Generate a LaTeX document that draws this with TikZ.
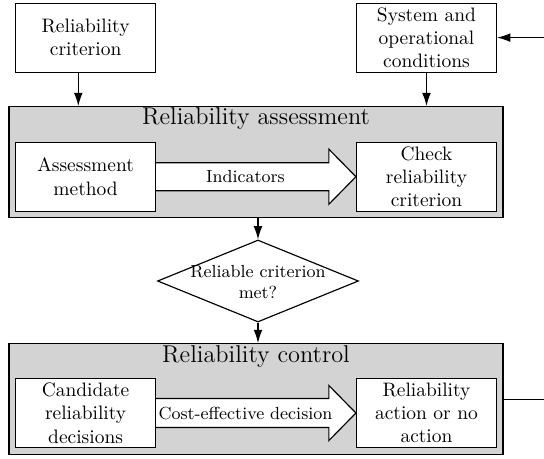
\documentclass[tikz,border=0pt]{standalone}
\usetikzlibrary{arrows.meta,shapes.geometric}
\definecolor{panelgray}{RGB}{211,211,211}
\def\px{0.514pt}
\begin{document}
\begin{tikzpicture}[x=0.514pt,y=-0.514pt,
  box/.style={draw, fill=white, line width=0.6pt, minimum width=71.96pt,
    minimum height=35.47pt, inner sep=0pt, align=center, font=\normalsize},
  panel/.style={draw, fill=panelgray, line width=0.6pt, minimum width=253.9pt,
    minimum height=57.1pt, inner sep=0pt},
  paneltitle/.style={inner sep=0pt, font=\fontsize{12.5}{15}\selectfont},
  decision/.style={draw, diamond, line width=0.6pt, minimum width=103.3pt,
    minimum height=42.15pt, inner sep=0pt},
  arr/.style={-{Latex[length=6.8pt,width=4.5pt]}, line width=0.6pt},
  bigarr/.style={draw, fill=white, line width=0.6pt, line join=miter},
  small/.style={inner sep=0pt, font=\small, align=center}]
\useasboundingbox (0,0) rectangle (544,458);

% inputs
\node[box] (crit) at (85.6,37.6) {Reliability\\criterion};
\node[box] (sys) at (426.5,37.6) {System and\\operational\\conditions};

% reliability assessment panel
\node[panel] (assess) at (256,162.2) {};
\node[paneltitle] (assesstitle) at (256,119) {Reliability assessment};
\node[box] (method) at (85.6,176.7) {Assessment\\method};
\node[box] (check) at (426.5,176.7) {Check\\reliability\\criterion};
\draw[bigarr] ([yshift=14*\px]method.east)
  -- ([xshift=-27*\px,yshift=14*\px]check.west)
  -- ([xshift=-27*\px,yshift=27.5*\px]check.west)
  -- (check.west)
  -- ([xshift=-27*\px,yshift=-27.5*\px]check.west)
  -- ([xshift=-27*\px,yshift=-14*\px]check.west)
  -- ([yshift=-14*\px]method.east);
\node[small] (ind) at (245.5,176.7) {Indicators};

% decision
\node[decision] (dec) at (258,281) {};
\node[small] (dectext) at (258,282) {Reliable criterion\\met?};

% reliability control panel
\node[panel] (ctrl) at (256,399.2) {};
\node[paneltitle] (ctrltitle) at (256,357) {Reliability control};
\node[box] (cand) at (85.6,413) {Candidate\\reliability\\decisions};
\node[box] (act) at (426.5,413) {Reliability\\action or no\\action};
\draw[bigarr] ([yshift=14.5*\px]cand.east)
  -- ([xshift=-27*\px,yshift=14.5*\px]act.west)
  -- ([xshift=-27*\px,yshift=27.5*\px]act.west)
  -- (act.west)
  -- ([xshift=-27*\px,yshift=-27.5*\px]act.west)
  -- ([xshift=-27*\px,yshift=-14.5*\px]act.west)
  -- ([yshift=-14.5*\px]cand.east);
\node[small] (cost) at (245.5,413.8) {Cost-effective decision};

% connectors
\draw[arr] ([xshift=-7.3*\px]crit.south) -- ([xshift=-7.3*\px]crit.south |- assess.north);
\draw[arr] (sys.south) -- (sys.south |- assess.north);
\draw[arr] (assess.south -| dec.north) -- (dec.north);
\draw[arr] (dec.south) -- (dec.south |- ctrl.north);
\draw[arr] (ctrl.east) -- ++(60,0) |- (sys.east);
\end{tikzpicture}
\end{document}
